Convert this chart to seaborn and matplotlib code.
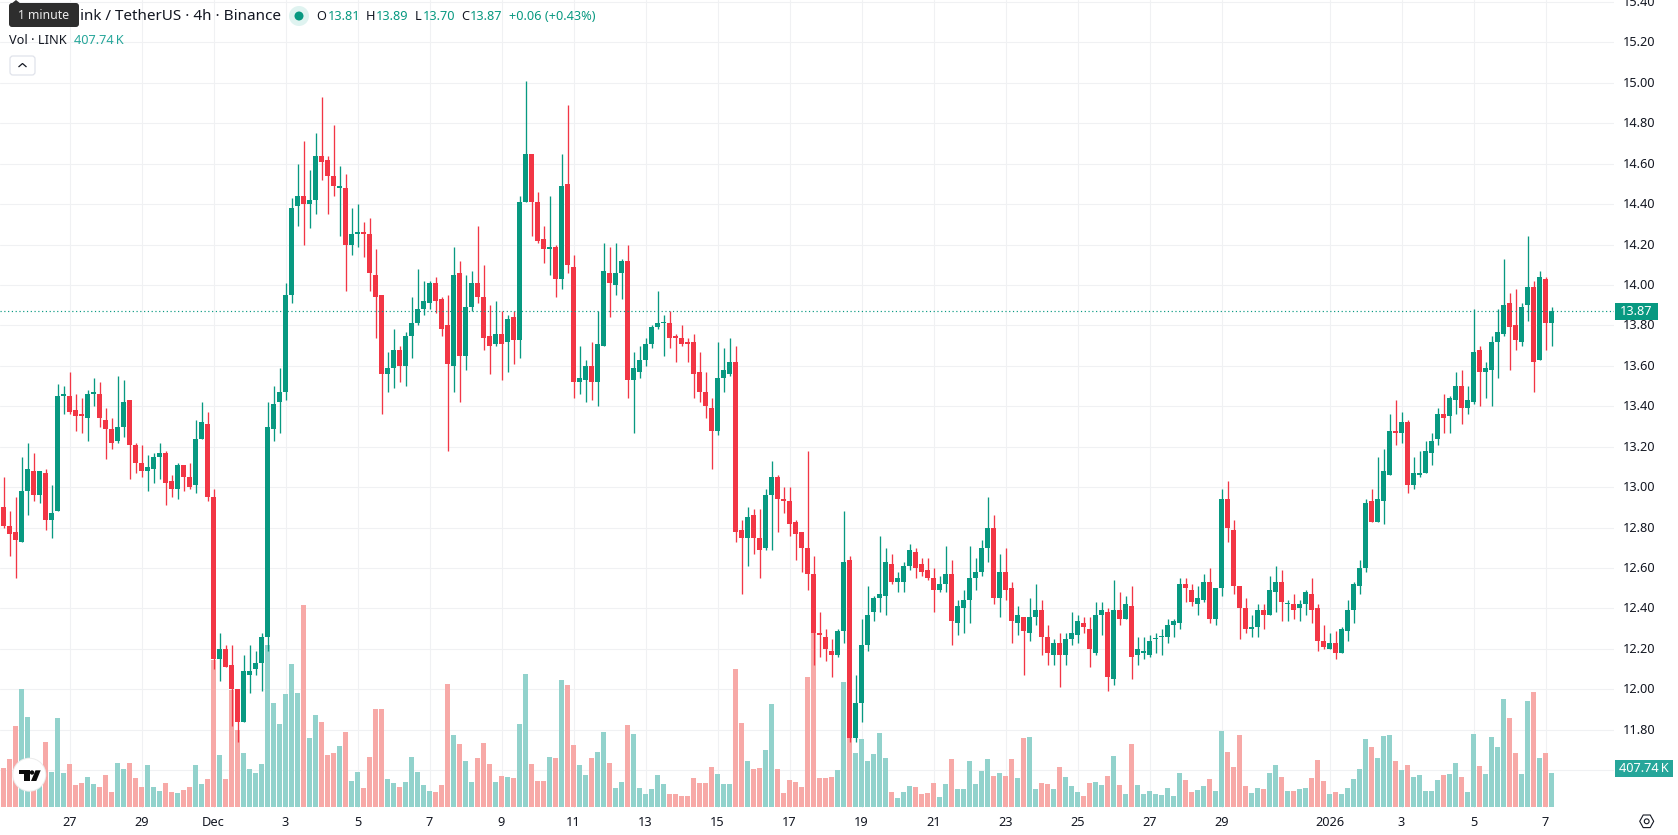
import numpy as np
import pandas as pd
import matplotlib
matplotlib.use("Agg")
import matplotlib.pyplot as plt
from matplotlib.patches import Circle, FancyBboxPatch, Polygon, Rectangle
from matplotlib.transforms import IdentityTransform, ScaledTranslation
import seaborn as sns

# LINK/USDT 4h candles, 24 Nov 2025 to 7 Jan 2026
opens = [
    12.90,12.81,12.78,12.73,12.98,13.08,12.96,13.07,12.84,12.88,
    13.45,13.45,13.38,13.36,13.34,13.46,13.46,13.33,13.29,13.23,
    13.30,13.43,13.21,13.12,13.08,13.09,13.15,13.17,13.03,12.99,
    13.11,13.05,13.01,13.24,13.31,12.95,12.15,12.20,12.12,12.00,
    11.84,12.07,12.10,12.13,12.26,13.29,13.42,13.47,13.95,14.39,
    14.44,14.40,14.42,14.64,14.62,14.54,14.48,14.48,14.20,14.25,
    14.26,14.25,14.05,13.95,13.56,13.59,13.68,13.60,13.75,13.81,
    13.88,13.91,14.01,13.93,13.80,13.60,14.06,13.65,13.89,14.01,
    13.94,13.75,13.71,13.76,13.72,13.84,13.73,14.41,14.65,14.41,
    14.23,14.18,14.19,14.03,14.50,14.09,13.52,13.53,13.60,13.52,
    13.70,14.06,14.00,14.06,14.12,13.53,13.57,13.63,13.71,13.79,
    13.81,13.81,13.75,13.74,13.72,13.72,13.57,13.47,13.39,13.28,
    13.54,13.56,13.62,12.79,12.75,12.86,12.75,12.70,12.96,13.05,
    12.94,12.93,12.83,12.78,12.70,12.57,12.28,12.26,12.19,12.17,
    12.29,12.64,11.76,11.93,12.22,12.38,12.45,12.46,12.62,12.53,
    12.53,12.61,12.68,12.62,12.59,12.55,12.49,12.52,12.57,12.33,
    12.40,12.44,12.55,12.58,12.70,12.80,12.45,12.58,12.50,12.33,
    12.36,12.28,12.36,12.39,12.26,12.17,12.23,12.17,12.25,12.27,
    12.33,12.30,12.18,12.37,12.38,12.05,12.39,12.35,12.41,12.17,
    12.18,12.17,12.25,12.26,12.26,12.32,12.33,12.52,12.49,12.42,
    12.44,12.53,12.35,12.50,12.94,12.79,12.51,12.40,12.30,12.31,
    12.39,12.37,12.48,12.53,12.42,12.42,12.40,12.42,12.47,12.40,
    12.24,12.20,12.23,12.18,12.29,12.39,12.51,12.60,12.93,12.83,
    12.93,13.06,13.28,13.27,13.32,13.01,13.06,13.07,13.17,13.24,
    13.36,13.35,13.43,13.50,13.39,13.42,13.68,13.57,13.58,13.72,
    13.76,13.91,13.80,13.72,13.90,13.99,13.63,14.03,13.81,
]
closes = [
    12.81,12.77,12.74,12.98,13.09,12.96,13.08,12.84,12.87,13.45,
    13.46,13.37,13.35,13.35,13.46,13.47,13.34,13.29,13.22,13.30,
    13.42,13.21,13.12,13.08,13.10,13.15,13.17,13.02,12.99,13.11,
    13.05,13.00,13.24,13.32,12.95,12.15,12.20,12.11,12.00,11.84,
    12.09,12.09,12.13,12.26,13.30,13.41,13.47,13.95,14.38,14.44,
    14.40,14.42,14.64,14.61,14.54,14.49,14.49,14.20,14.25,14.26,
    14.25,14.06,13.94,13.56,13.59,13.68,13.60,13.75,13.81,13.88,
    13.92,14.01,13.92,13.78,13.61,14.05,13.65,13.89,14.01,13.94,
    13.74,13.70,13.76,13.71,13.83,13.73,14.41,14.65,14.41,14.22,
    14.18,14.19,14.03,14.49,14.10,13.52,13.54,13.60,13.52,13.71,
    14.07,14.01,14.06,14.12,13.53,13.59,13.63,13.71,13.79,13.81,
    13.81,13.74,13.74,13.71,13.71,13.56,13.47,13.40,13.28,13.54,
    13.58,13.62,12.78,12.75,12.85,12.75,12.69,12.96,13.05,12.94,
    12.93,12.82,12.77,12.70,12.57,12.28,12.27,12.20,12.17,12.29,
    12.63,11.76,11.93,12.22,12.37,12.45,12.47,12.63,12.53,12.55,
    12.61,12.69,12.60,12.58,12.55,12.49,12.52,12.57,12.34,12.41,
    12.44,12.55,12.58,12.70,12.80,12.45,12.58,12.49,12.34,12.37,
    12.29,12.36,12.39,12.26,12.18,12.23,12.17,12.25,12.28,12.34,
    12.31,12.20,12.37,12.39,12.06,12.39,12.35,12.42,12.16,12.20,
    12.19,12.24,12.25,12.26,12.32,12.34,12.52,12.50,12.43,12.45,
    12.53,12.35,12.50,12.94,12.80,12.51,12.40,12.30,12.30,12.39,
    12.37,12.49,12.53,12.43,12.42,12.39,12.42,12.48,12.39,12.24,
    12.21,12.23,12.18,12.30,12.39,12.52,12.60,12.92,12.83,12.94,
    13.08,13.28,13.27,13.32,13.01,13.07,13.07,13.18,13.23,13.36,
    13.34,13.44,13.50,13.39,13.43,13.67,13.57,13.59,13.72,13.77,
    13.90,13.79,13.73,13.89,13.99,13.62,14.04,13.81,13.87,
]
highs = [
    13.05,12.88,12.95,13.15,13.22,13.17,13.08,13.09,13.01,13.51,
    13.50,13.57,13.46,13.44,13.48,13.54,13.52,13.39,13.34,13.55,
    13.53,13.43,13.22,13.21,13.16,13.17,13.22,13.18,13.06,13.12,
    13.11,13.12,13.33,13.42,13.37,12.99,12.28,12.22,12.22,12.00,
    12.17,12.22,12.19,12.28,13.42,13.50,13.59,14.01,14.43,14.60,
    14.71,14.57,14.75,14.93,14.64,14.79,14.59,14.55,14.38,14.40,
    14.31,14.33,14.18,13.95,13.67,13.78,13.70,13.77,13.94,14.08,
    14.02,14.02,14.04,13.94,13.95,14.19,14.12,14.05,14.07,14.29,
    14.10,13.90,13.92,13.87,13.85,13.87,14.44,15.01,14.65,14.46,
    14.29,14.44,14.20,14.65,14.89,14.15,13.70,13.63,13.72,13.87,
    14.21,14.19,14.21,14.13,14.20,13.67,13.70,13.74,13.80,13.97,
    13.85,13.87,13.76,13.80,13.74,13.76,13.67,13.57,13.44,13.72,
    13.69,13.74,13.70,12.84,12.90,12.89,12.89,12.99,13.13,13.06,
    13.00,13.00,12.84,12.78,13.18,12.66,12.38,12.30,12.25,12.30,
    12.88,12.66,12.07,12.35,12.51,12.46,12.76,12.70,12.67,12.58,
    12.63,12.72,12.70,12.65,12.65,12.60,12.56,12.71,12.64,12.44,
    12.49,12.71,12.65,12.74,12.95,12.86,12.67,12.70,12.53,12.41,
    12.36,12.45,12.52,12.44,12.32,12.25,12.28,12.28,12.38,12.37,
    12.36,12.36,12.43,12.43,12.40,12.54,12.48,12.46,12.51,12.26,
    12.26,12.27,12.28,12.30,12.35,12.35,12.55,12.55,12.52,12.51,
    12.57,12.60,12.50,12.99,13.03,12.84,12.51,12.45,12.37,12.42,
    12.42,12.56,12.61,12.59,12.44,12.47,12.44,12.49,12.55,12.42,
    12.32,12.28,12.29,12.31,12.44,12.53,12.64,12.94,12.99,13.15,
    13.19,13.36,13.43,13.37,13.33,13.15,13.18,13.23,13.27,13.39,
    13.46,13.45,13.57,13.58,13.50,13.88,13.70,13.62,13.75,13.88,
    14.13,13.96,13.98,13.91,14.24,14.02,14.07,14.04,13.89,
]
lows = [
    12.80,12.66,12.55,12.73,12.86,12.93,12.92,12.79,12.75,12.88,
    13.36,13.36,13.28,13.27,13.23,13.40,13.30,13.14,13.19,13.22,
    13.25,13.04,13.07,13.05,12.98,13.02,13.04,12.91,12.95,12.94,
    12.98,12.99,12.97,13.24,12.93,12.10,12.04,12.11,11.82,11.74,
    11.84,11.98,12.07,11.99,12.19,13.23,13.27,13.43,13.91,14.29,
    14.20,14.28,14.35,14.52,14.35,14.44,14.24,13.97,14.15,14.19,
    14.14,13.97,13.74,13.36,13.47,13.49,13.52,13.50,13.64,13.80,
    13.85,13.88,13.86,13.75,13.18,13.47,13.42,13.58,13.87,13.91,
    13.68,13.56,13.70,13.53,13.57,13.61,13.64,14.41,14.24,14.21,
    14.11,14.05,13.94,13.98,14.06,13.44,13.46,13.42,13.43,13.40,
    13.70,13.84,13.95,13.93,13.44,13.27,13.54,13.60,13.69,13.78,
    13.65,13.69,13.62,13.70,13.62,13.44,13.42,13.34,13.09,13.26,
    13.47,13.55,12.73,12.47,12.61,12.67,12.55,12.69,12.69,12.78,
    12.87,12.76,12.64,12.58,12.49,12.12,12.16,12.14,12.06,12.16,
    12.23,11.74,11.74,11.84,12.19,12.34,12.38,12.37,12.52,12.48,
    12.48,12.59,12.55,12.56,12.54,12.38,12.48,12.48,12.22,12.27,
    12.28,12.33,12.49,12.56,12.63,12.42,12.36,12.44,12.23,12.27,
    12.07,12.24,12.32,12.17,12.12,12.12,12.01,12.12,12.22,12.23,
    12.28,12.11,12.17,12.27,11.99,12.02,12.32,12.35,12.05,12.12,
    12.15,12.16,12.18,12.17,12.23,12.26,12.30,12.43,12.41,12.37,
    12.43,12.33,12.32,12.46,12.73,12.47,12.25,12.28,12.26,12.26,
    12.30,12.37,12.38,12.34,12.34,12.35,12.34,12.37,12.33,12.19,
    12.20,12.20,12.15,12.18,12.24,12.33,12.47,12.58,12.83,12.83,
    12.82,13.06,13.21,13.22,12.97,12.99,13.05,13.07,13.11,13.21,
    13.27,13.27,13.36,13.31,13.36,13.41,13.40,13.44,13.40,13.54,
    13.75,13.58,13.68,13.70,13.82,13.47,13.63,13.68,13.70,
]
# Traded volume per candle, in thousands of LINK
volumes = [
    468,576,975,1423,1084,300,420,782,419,1072,
    407,516,262,286,359,274,238,383,177,528,
    455,528,347,238,504,238,189,286,177,165,
    202,238,504,274,334,1782,628,337,1420,931,
    651,457,411,520,1959,1256,999,1365,1730,1376,
    2444,834,1108,1028,628,651,737,902,314,423,
    228,600,1182,1182,337,286,240,303,600,423,
    266,197,185,266,1488,874,764,556,301,596,
    776,521,301,376,365,353,1007,1610,521,318,
    318,608,596,1540,1476,753,510,388,596,666,
    909,533,232,301,994,883,233,160,221,389,
    282,160,160,135,135,352,290,290,487,401,
    282,282,1673,1018,560,462,474,691,1247,462,
    172,327,303,245,1575,2106,352,347,359,443,
    1507,850,649,818,552,637,891,588,177,105,
    177,250,238,153,165,286,117,274,576,214,
    214,552,274,431,576,371,407,371,576,347,
    830,842,214,286,274,214,480,359,250,177,
    129,286,298,262,371,613,262,153,758,262,
    153,189,153,141,226,129,407,322,177,202,
    250,334,189,915,661,480,866,254,169,230,
    218,411,508,363,193,193,218,230,351,568,
    314,157,181,157,230,339,459,820,732,588,
    857,866,551,445,505,357,384,190,190,324,
    384,394,528,357,176,889,491,394,843,722,
    1301,1074,648,394,1278,1389,588,648,407.74,
]
date_ticks = [11, 23, 35, 47, 59, 71, 83, 95, 107, 119, 131, 143, 155, 167,
              179, 191, 203, 221, 233, 245, 257]
date_labels = ["27", "29", "Dec", "3", "5", "7", "9", "11", "13", "15", "17",
               "19", "21", "23", "25", "27", "29", "2026", "3", "5", "7"]
price_levels = [11.6, 11.8, 12.0, 12.2, 12.4, 12.6, 12.8, 13.0, 13.2, 13.4, 13.6,
                13.8, 14.0, 14.2, 14.4, 14.6, 14.8, 15.0, 15.2, 15.4]
last_price = 13.87

UP, DOWN = "#089981", "#F23645"
VOL_UP, VOL_DOWN = "#92D2CC", "#F7A9A7"
INK = "#131722"
GRID = "#F0F1F3"

sns.set_theme(style="white")
plt.rcParams["font.family"] = ["Noto Sans", "DejaVu Sans"]

W, H = 1678, 835
PLOT_R, PLOT_B = 1614, 808
fig = plt.figure(figsize=(W / 100, H / 100), dpi=100, facecolor="white")
rect = [0, 1 - PLOT_B / H, PLOT_R / W, PLOT_B / H]

candles = pd.DataFrame({"candle": np.arange(len(closes)), "open": opens, "high": highs,
                        "low": lows, "close": closes, "volume": volumes})
candles["side"] = np.where(candles["close"] >= candles["open"], "up", "down")
colors = candles["side"].map({"up": UP, "down": DOWN})

x_lim = (-3.5 / 6, (PLOT_R - 3.5) / 6)
price_lim = (13.40 - (PLOT_B - 406.3) / 202.15, 13.40 + 406.3 / 202.15)
vol_lim = (-12.1, 807 * 12.1)

# Bottom layer: grid and both axes' labels
ax = fig.add_axes(rect, zorder=1)
ax.set_xlim(x_lim)
ax.set_ylim(price_lim)
ax.set_xticks(date_ticks, date_labels)
ax.set_yticks(price_levels, ["" if p < 11.7 else f"{p:.2f}" for p in price_levels])
ax.yaxis.tick_right()
ax.grid(True, color=GRID, linewidth=0.75)
ax.set_axisbelow(True)
ax.tick_params(axis="y", length=0, pad=6.2, labelsize=9.2, labelcolor=INK)
ax.tick_params(axis="x", length=0, pad=5.5, labelsize=9.2, labelcolor=INK)
lift = ScaledTranslation(0, 1 / 100, fig.dpi_scale_trans)
for tick_label in ax.get_yticklabels():
    tick_label.set_transform(tick_label.get_transform() + lift)
for tick_label in ax.get_xticklabels():
    if tick_label.get_text() == "2026":
        tick_label.set_fontweight("bold")
sns.despine(ax=ax, left=True, bottom=True, right=True, top=True)

# Middle layer: volume histogram
ax_vol = fig.add_axes(rect, zorder=2, sharex=ax)
ax_vol.patch.set_alpha(0)
sns.barplot(data=candles, x="candle", y="volume", hue="side", native_scale=True,
            palette={"up": VOL_UP, "down": VOL_DOWN}, dodge=False, saturation=1,
            width=5.3 / 6, linewidth=0, legend=False, ax=ax_vol)
ax_vol.set_xlim(x_lim)
ax_vol.set_ylim(vol_lim)
ax_vol.axis("off")

# Top layer: candles and the last-price line
ax_c = fig.add_axes(rect, zorder=3, sharex=ax)
ax_c.patch.set_alpha(0)
ax_c.vlines(candles["candle"], candles["low"], candles["high"], colors=colors, linewidth=0.95)
body_low = candles[["open", "close"]].min(axis=1)
body_size = (candles["open"] - candles["close"]).abs().clip(lower=0.006)
ax_c.bar(candles["candle"], body_size, bottom=body_low, width=5 / 6, color=colors, linewidth=0)
ax_c.axhline(last_price, color=UP, linewidth=0.85, linestyle=(0, (1, 2.2)))
ax_c.set_xlim(x_lim)
ax_c.set_ylim(price_lim)
ax_c.axis("off")


def px(x, y):
    """Image pixel position (origin top left) to display coordinates."""
    return x, H - y


def label(x, y, text, color=INK, size=9.2, ha="left", weight="normal"):
    fig.text(x / W, 1 - y / H, text, color=color, fontsize=size, ha=ha, va="center",
             fontweight=weight, zorder=10)


def add(patch, z=9):
    patch.set_transform(IdentityTransform())
    patch.set_zorder(z)
    fig.add_artist(patch)


# Legend header; the start of the symbol name sits under the tooltip
label(281, 16, "ink / TetherUS · 4h · Binance", size=11.0, ha="right")
add(Circle(px(299, 16), 10, facecolor="#DFF3F0", edgecolor="none"))
add(Circle(px(299, 16), 4.5, facecolor=UP, edgecolor="none"), z=10)
for x, t, c in [(316, "O", INK), (328, "13.81", UP), (366, "H", INK), (376, "13.89", UP),
                (415, "L", INK), (423, "13.70", UP), (461, "C", INK), (470, "13.87", UP),
                (509, "+0.06 (+0.43%)", UP)]:
    label(x, 16, t, color=c, size=9.2)
label(9, 40, "Vol · LINK", size=9.2)
label(73.5, 40, "407.74\u2009K", color="#26A69A", size=9.2)

# Collapse button
add(FancyBboxPatch(px(10, 75), 25, 19, boxstyle="round,pad=0,rounding_size=3",
                   facecolor="white", edgecolor="#E0E3EB", linewidth=0.9))
add(Polygon([px(18.5, 67), px(22.5, 63.5), px(26.5, 67)], closed=False, fill=False,
            edgecolor=INK, linewidth=0.9), z=10)

# Hover tooltip
add(FancyBboxPatch(px(9, 27), 70, 24, boxstyle="round,pad=0,rounding_size=3",
                   facecolor="#2E2E2E", edgecolor="none"), z=11)
add(Polygon([px(11, 4), px(16, 0), px(21, 4)], facecolor="#2E2E2E", edgecolor="none"), z=11)
fig.text(44 / W, 1 - 15.5 / H, "1 minute", color="#EDEDED", fontsize=8.8, ha="center",
         va="center", zorder=12)

# Price-scale tags
add(Rectangle(px(1615, 320), 43, 17, facecolor=UP, edgecolor="none"), z=11)
fig.text(1636.5 / W, 1 - 311.3 / H, "13.87", color="white", fontsize=9.2, ha="center",
         va="center", zorder=12)
add(Rectangle(px(1615, 776.7), 57.5, 16.7, facecolor="#26A69A", edgecolor="none"), z=11)
fig.text(1644 / W, 1 - 768.3 / H, "407.74\u2009K", color="white", fontsize=9.2, ha="center",
         va="center", zorder=12)

# Settings hexagon in the corner
cx, cy = 1646.7, 821.3
add(Polygon([px(cx - 7, cy), px(cx - 3.5, cy - 6.3), px(cx + 3.5, cy - 6.3), px(cx + 7, cy),
             px(cx + 3.5, cy + 6.3), px(cx - 3.5, cy + 6.3)], closed=True, fill=False,
            edgecolor=INK, linewidth=0.8))
add(Circle(px(cx, cy), 2.4, fill=False, edgecolor=INK, linewidth=0.8))

# TradingView badge over the volume pane
add(Circle(px(29.3, 774.7), 17, facecolor="#ECECEC", edgecolor="none"), z=8)
add(Circle(px(29.3, 774.7), 16, facecolor="white", edgecolor="none"), z=9)
add(Polygon([px(19, 770.3), px(29.5, 770.3), px(29.5, 781), px(23.5, 781), px(23.5, 774),
             px(19, 774)], facecolor="#0B0B0B", edgecolor="none"), z=10)
add(Circle(px(32, 772.5), 2.2, facecolor="#0B0B0B", edgecolor="none"), z=10)
add(Polygon([px(35.5, 770.3), px(40.7, 770.3), px(36.3, 781), px(31, 781)],
            facecolor="#0B0B0B", edgecolor="none"), z=10)

fig.savefig("out.png", dpi=100)
